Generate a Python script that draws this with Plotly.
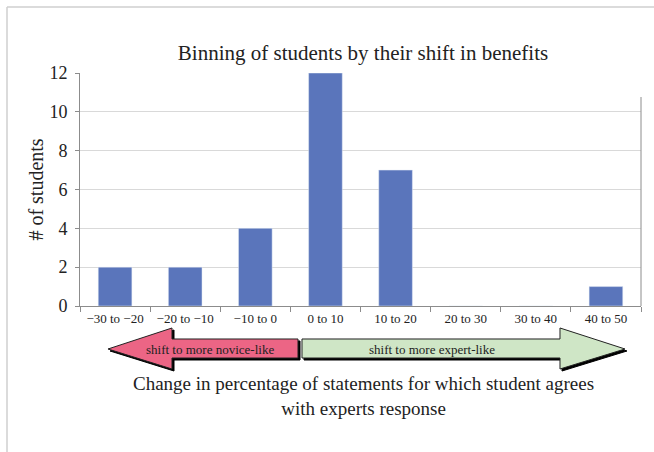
import plotly.graph_objects as go

# Histogram bins (percentage-point change) and student counts
bins = ["−30 to −20", "−20 to −10", "−10 to 0", "0 to 10",
        "10 to 20", "20 to 30", "30 to 40", "40 to 50"]
counts = [2, 2, 4, 12, 7, 0, 0, 1]
y_ticks = [0, 2, 4, 6, 8, 10, 12]

W, H = 654, 452
L, R, T, B = 80, 13, 73, 146
PW, PH = W - L - R, H - T - B

FONT = "Liberation Serif"
BAR = "#5a75bb"
GRID = "#d9d9d9"
AXIS = "#8c8c8c"
TEXT = "#222222"


def px(x):
    """Pixel x -> paper x."""
    return (x - L) / PW


def py(y):
    """Pixel y -> paper y."""
    return (H - B - y) / PH


def path(points):
    pts = [f"{px(x):.5f},{py(y):.5f}" for x, y in points]
    return "M " + " L ".join(pts) + " Z"


fig = go.Figure(go.Bar(x=bins, y=counts, marker_color=BAR, width=0.48))

shapes = []

# outer frame (top and left edges)
shapes.append(dict(type="line", xref="paper", yref="paper",
                   x0=px(7), x1=px(W + 5), y0=py(7), y1=py(7),
                   line=dict(color="#cfcfcf", width=1.5)))
shapes.append(dict(type="line", xref="paper", yref="paper",
                   x0=px(7), x1=px(7), y0=py(7), y1=py(H + 5),
                   line=dict(color="#cfcfcf", width=1.5)))

# right-hand border line of the plot
shapes.append(dict(type="line", xref="paper", yref="paper",
                   x0=1, x1=1, y0=py(97), y1=0,
                   line=dict(color=AXIS, width=1)))

# direction arrows under the axis
novice = [(298, 339), (172, 339), (172, 328), (108, 349),
          (172, 369), (172, 358), (298, 358)]
expert = [(302, 339), (560, 339), (560, 328), (625, 349),
          (560, 369), (560, 358), (302, 358)]
for pts, fill in [(novice, "#ec6585"), (expert, "#cfe6c6")]:
    shadow = [(x + 2, y + 2) for x, y in pts]
    shapes.append(dict(type="path", xref="paper", yref="paper",
                       path=path(shadow), fillcolor="black",
                       line=dict(color="black", width=1)))
    shapes.append(dict(type="path", xref="paper", yref="paper",
                       path=path(pts), fillcolor=fill,
                       line=dict(color=TEXT, width=1)))


def label(text, x, y, size):
    return dict(text=text, x=px(x), y=py(y), xref="paper", yref="paper",
                xanchor="center", yanchor="middle", showarrow=False,
                font=dict(family=FONT, size=size, color=TEXT))


annotations = [
    label("shift to more novice-like", 210, 349, 13),
    label("shift to more expert-like", 432, 349, 13),
    label("Change in percentage of statements for which student agrees"
          "<br>with experts response", 363, 396, 19),
]

fig.update_layout(
    width=W, height=H,
    margin=dict(l=L, r=R, t=T, b=B),
    paper_bgcolor="white", plot_bgcolor="white",
    showlegend=False,
    title=dict(text="Binning of students by their shift in benefits",
               xref="paper", x=px(363), xanchor="center",
               yref="container", y=1 - 53 / H, yanchor="middle",
               font=dict(family=FONT, size=21, color=TEXT)),
    shapes=shapes,
    annotations=annotations,
)

fig.update_xaxes(
    type="category", range=[-0.5, 7.5],
    showline=True, linecolor=AXIS, linewidth=1,
    ticks="outside", ticklen=5, tickcolor=AXIS, tickson="boundaries",
    showgrid=False,
    tickfont=dict(family=FONT, size=13, color=TEXT),
)
fig.update_yaxes(
    range=[0, 12], tickvals=y_ticks,
    showline=True, linecolor=AXIS, linewidth=1,
    ticks="outside", ticklen=4, tickcolor=AXIS, ticklabelstandoff=4,
    showgrid=True, gridcolor=GRID, gridwidth=1,
    zeroline=False,
    tickfont=dict(family=FONT, size=18, color=TEXT),
    title=dict(text="# of students", standoff=0,
               font=dict(family=FONT, size=20, color=TEXT)),
)

fig.write_html("out.html")
